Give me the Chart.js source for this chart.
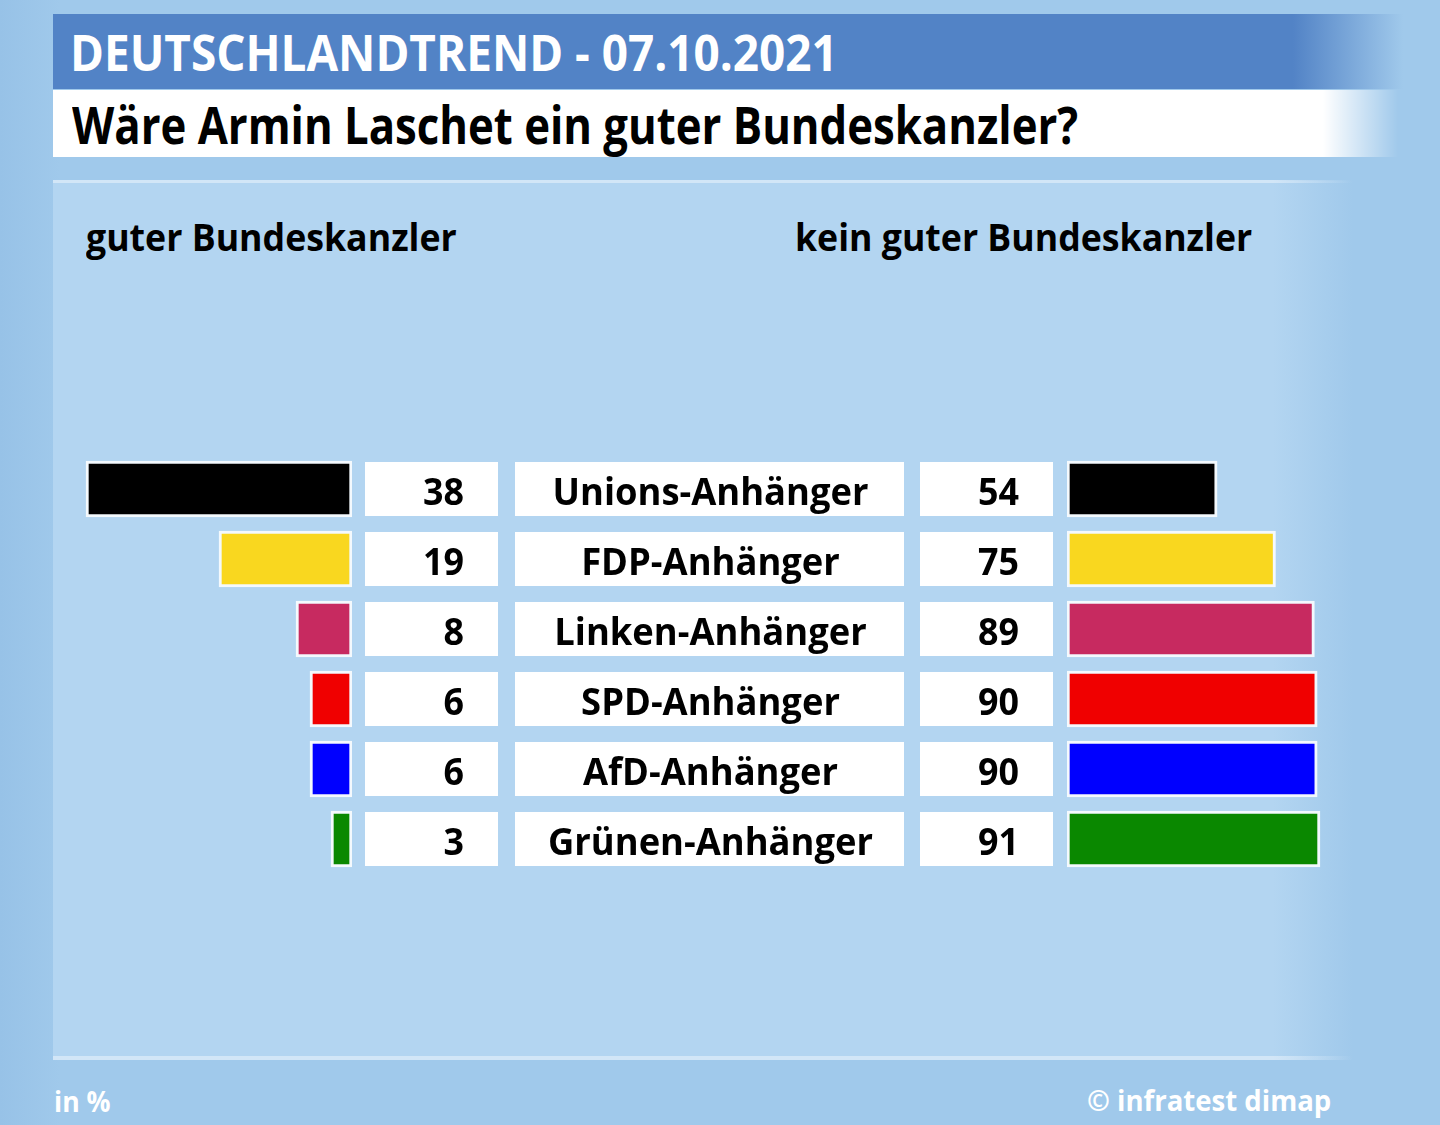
<!DOCTYPE html>
<html>
<head>
<meta charset="utf-8">
<script src="https://cdn.jsdelivr.net/npm/chart.js@4"></script>
<style>
  html, body { margin:0; padding:0; }
  body { width:1440px; height:1125px; overflow:hidden; position:relative;
         background: linear-gradient(to right, #97c2e7 0px, #a0c9eb 60px, #a0c9eb 100%);
         font-family: "Open Sans", "Noto Sans", sans-serif; }
  .abs { position:absolute; }
  #hdr { left:53px; top:14px; width:1350px; height:75px;
         background: linear-gradient(to right, #5283c6 0px, #5283c6 1240px, rgba(82,131,198,0.0) 1350px); }
  #sub { left:53px; top:90px; width:1345px; height:67px;
         background: linear-gradient(to right, #ffffff 0px, #ffffff 1270px, rgba(255,255,255,0.0) 1345px); }
  #panel { left:53px; top:181px; width:1300px; height:879px;
         background: linear-gradient(to right, #b3d5f1 0px, #b3d5f1 1220px, rgba(179,213,241,0) 1300px); }
  #lineTop { left:53px; top:180px; width:1300px; height:3px;
         background: linear-gradient(to right, #d2e6f7 0px, #d2e6f7 1220px, rgba(210,230,247,0) 1300px); }
  #lineBot { left:53px; top:1056px; width:1300px; height:4px;
         background: linear-gradient(to right, #d2e6f7 0px, #d2e6f7 1220px, rgba(210,230,247,0) 1300px); }
  .txt { white-space:nowrap; transform-origin:left center; }
  #t1 { left:70px; top:22px; height:60px; line-height:60px; font-size:50px; font-weight:700; color:#fff; }
  #t2 { left:72px; top:94px; height:60px; line-height:60px; font-size:52px; font-weight:700; color:#000; }
  #h1 { left:86px; top:214px; height:44px; line-height:44px; font-size:38px; font-weight:700; color:#000; }
  #h2 { left:795px; top:214px; height:44px; line-height:44px; font-size:38px; font-weight:700; color:#000; }
  #f1 { left:54px; top:1084px; height:34px; line-height:34px; font-size:29px; font-weight:700; color:#fff; }
  #f2 { left:1087px; top:1083px; height:34px; line-height:34px; font-size:29px; font-weight:700; color:#fff; }
  #leftWrap { left:72px; top:454px; width:988px; height:420px; }
  #rightWrap { left:1067px; top:454px; width:300px; height:420px; }
</style>
</head>
<body>
<div id="hdr" class="abs"></div>
<div id="sub" class="abs"></div>
<div id="panel" class="abs"></div>
<div id="lineTop" class="abs"></div>
<div id="lineBot" class="abs"></div>
<div id="t1" class="abs txt" data-w="768">DEUTSCHLANDTREND - 07.10.2021</div>
<div id="t2" class="abs txt" data-w="1006">Wäre Armin Laschet ein guter Bundeskanzler?</div>
<div id="h1" class="abs txt" data-w="371">guter Bundeskanzler</div>
<div id="h2" class="abs txt" data-w="457">kein guter Bundeskanzler</div>
<div id="f1" class="abs txt" data-w="57">in %</div>
<div id="f2" class="abs txt" data-w="244">© infratest dimap</div>
<div id="leftWrap" class="abs"><canvas id="cLeft"></canvas></div>
<div id="rightWrap" class="abs"><canvas id="cRight"></canvas></div>
<script>
// ---- data ----
const categories = ['Unions-Anhänger','FDP-Anhänger','Linken-Anhänger','SPD-Anhänger','AfD-Anhänger','Grünen-Anhänger'];
const guterValues = [38, 19, 8, 6, 6, 3];
const keinValues  = [54, 75, 89, 90, 90, 91];
const partyColors = ['#000000','#f9d71f','#c72a60','#f00000','#0000ff','#0a8800'];

// fit header texts to their widths
document.querySelectorAll('.txt').forEach(el => {
  const target = +el.dataset.w;
  const w = el.scrollWidth;
  el.style.transform = 'scaleX(' + (target / w) + ')';
});

const FONT = '"Open Sans", "Noto Sans", sans-serif';

const boxPlugin = {
  id: 'boxes',
  afterDatasetsDraw(chart) {
    const ctx = chart.ctx;
    const ys = chart.scales.y;
    const base = chart.chartArea.right;
    const boxH = 54;
    const boxes = [
      {x: base + 13, w: 133},   // left number
      {x: base + 163, w: 389},  // party label
      {x: base + 568, w: 133}   // right number
    ];
    ctx.save();
    ctx.font = '700 38px ' + FONT;
    const labelScale = 316 / ctx.measureText(categories[0]).width;
    const numScale = 41 / ctx.measureText(String(guterValues[0])).width;
    categories.forEach((cat, i) => {
      const yc = ys.getPixelForValue(i);
      ctx.fillStyle = '#ffffff';
      boxes.forEach(b => ctx.fillRect(b.x, yc - boxH / 2, b.w, boxH));
      ctx.fillStyle = '#000000';
      ctx.textBaseline = 'alphabetic';
      ctx.font = '700 38px ' + FONT;
      [[boxes[0], guterValues[i]], [boxes[2], keinValues[i]]].forEach(([b, v]) => {
        const s = String(v);
        const w = ctx.measureText(s).width * numScale;
        const xr = b.x + b.w - 34;
        ctx.save();
        ctx.translate(xr - w, yc + 16);
        ctx.scale(numScale, 1);
        ctx.fillText(s, 0, 0);
        ctx.restore();
      });
      const lw = ctx.measureText(cat).width * labelScale;
      ctx.save();
      ctx.translate(boxes[1].x + boxes[1].w / 2 - lw / 2 + 1, yc + 16);
      ctx.scale(labelScale, 1);
      ctx.fillText(cat, 0, 0);
      ctx.restore();
    });
    ctx.restore();
  }
};

function barChart(canvasId, values, max, reverse, padRight, plugins) {
  return new Chart(document.getElementById(canvasId), {
    type: 'bar',
    data: {
      labels: categories,
      datasets: [{
        data: values,
        backgroundColor: partyColors,
        borderColor: 'rgba(255,255,255,0.85)',
        borderWidth: 3,
        borderSkipped: false,
        barThickness: 56
      }]
    },
    options: {
      indexAxis: 'y',
      responsive: true,
      maintainAspectRatio: false,
      animation: false,
      layout: { padding: { left: 0, right: padRight, top: 0, bottom: 0 } },
      plugins: { legend: { display: false }, tooltip: { enabled: false } },
      scales: {
        x: { display: false, min: 0, max: max, reverse: reverse, grid: { display: false } },
        y: { display: false, grid: { display: false } }
      }
    },
    plugins: plugins
  });
}

barChart('cLeft', guterValues, 40, true, 708, [boxPlugin]);
barChart('cRight', keinValues, 100, false, 22, []);
</script>
</body>
</html>
